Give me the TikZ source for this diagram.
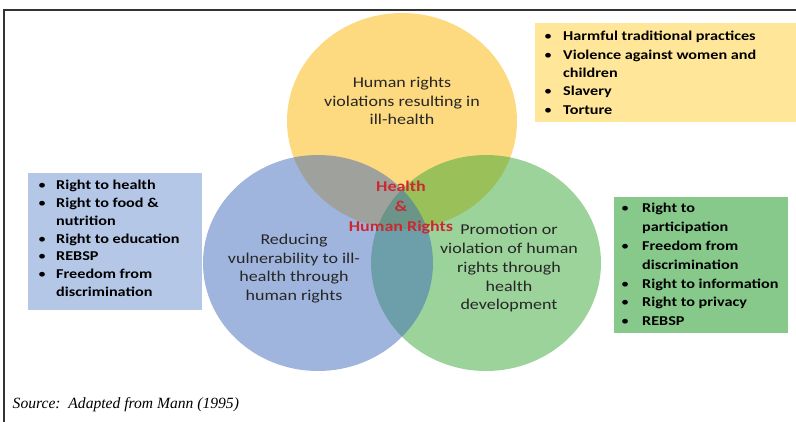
\documentclass[tikz,border=0pt]{standalone}
\usepackage{fontspec}
\setmainfont{Liberation Serif}
\setsansfont{Carlito}[FakeStretch=1.2]
\usetikzlibrary{positioning,shapes.geometric}
\definecolor{vyellow}{RGB}{251,179,0}
\definecolor{vblue}{RGB}{65,107,187}
\definecolor{vgreen}{RGB}{55,167,53}
\definecolor{byellow}{RGB}{255,230,153}
\definecolor{bblue}{RGB}{180,199,231}
\definecolor{bgreen}{RGB}{134,201,138}
\definecolor{hred}{RGB}{204,40,48}
\definecolor{vtext}{RGB}{38,38,38}
\newcommand{\bul}{{\mdseries\textbullet}}

\begin{document}
\begin{tikzpicture}[x=1pt, y=-1pt,
venn/.style={ellipse, minimum width=230pt, minimum height=216pt, inner sep=0pt, fill opacity=0.5},
listbox/.style={rectangle, anchor=north west, inner sep=0pt},
listtext/.style={anchor=base west, inner sep=0pt, font=\sffamily\bfseries\fontsize{13.5}{18.4}\selectfont},
venn label/.style={align=center, inner sep=0pt, anchor=base, text=vtext, font=\sffamily\fontsize{15}{18.8}\selectfont}]
\useasboundingbox (0,0) rectangle (796,422);
% frame
\draw[black!80, line width=2pt] (4,422) -- (4,10) -- (796,10);
% boxes
\node[listbox, fill=byellow, minimum width=261pt, minimum height=99pt] (harmbox) at (535,23) {};
\node[listbox, fill=bblue, minimum width=174pt, minimum height=137pt] (vulnbox) at (28,173) {};
\node[listbox, fill=bgreen, minimum width=174pt, minimum height=136pt] (promobox) at (614,197) {};
% circles
\node[venn, fill=vyellow] (yellowc) at (402,121) {};
\node[venn, fill=vgreen] (greenc) at (486,263) {};
\node[venn, fill=vblue] (bluec) at (318,263) {};
% circle texts (base = last line)
\node[venn label] (violtext) at (402,125) {Human rights\\violations resulting in\\ill-health};
\node[venn label] (vulntext) at (294,300.7) {Reducing\\vulnerability to ill-\\health through\\human rights};
\node[venn label] (promotext) at (509,310) {Promotion or\\violation of human\\rights through\\health\\development};
\node[align=center, inner sep=0pt, anchor=base, text=hred, font=\sffamily\bfseries\fontsize{15}{20.3}\selectfont] (hhr) at (401,231.7) {Health\\\&\\Human Rights};
% lists
\node[listtext] (harmlist) at (544,40.7) {\begin{tabular}[t]{@{}p{19pt}@{}l@{}}
\bul & Harmful traditional practices\\
\bul & Violence against women and\\
 & children\\
\bul & Slavery\\
\bul & Torture
\end{tabular}};
\node[listtext, font=\sffamily\bfseries\fontsize{13.5}{17.7}\selectfont] (vulnlist) at (38,190) {\begin{tabular}[t]{@{}p{18pt}@{}l@{}}
\bul & Right to health\\
\bul & Right to food \&\\
 & nutrition\\
\bul & Right to education\\
\bul & REBSP\\
\bul & Freedom from\\
 & discrimination
\end{tabular}};
\node[listtext, font=\sffamily\bfseries\fontsize{13.5}{18.8}\selectfont] (promolist) at (621,213) {\begin{tabular}[t]{@{}p{21pt}@{}l@{}}
\bul & Right to\\
 & participation\\
\bul & Freedom from\\
 & discrimination\\
\bul & Right to information\\
\bul & Right to privacy\\
\bul & REBSP
\end{tabular}};
% source
\node[anchor=base west, inner sep=0pt, font=\itshape\fontsize{15.6}{18}\selectfont] (source) at (12.5,408) {Source:\ \ Adapted from Mann (1995)};
\end{tikzpicture}
\end{document}
